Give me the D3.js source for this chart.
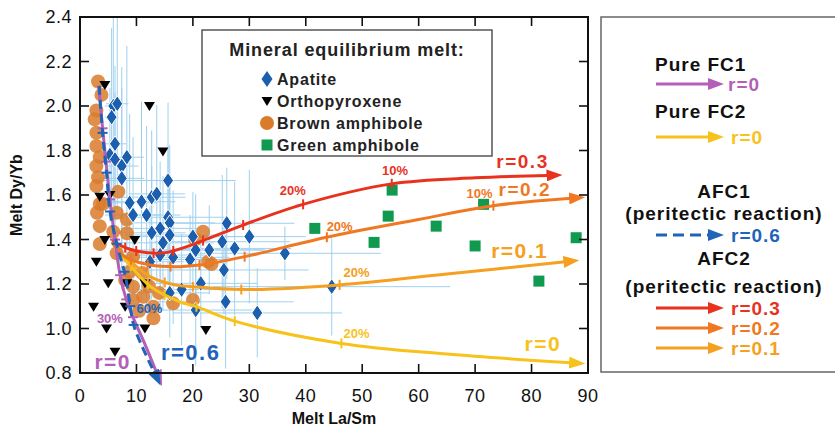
<!DOCTYPE html>
<html><head><meta charset="utf-8">
<script src="https://cdn.jsdelivr.net/npm/d3@7"></script>
<style>body{margin:0;background:#fff}svg{font-family:"Liberation Sans",Arial,sans-serif}</style>
</head><body>
<svg id="c" width="835" height="435"></svg>
<script>
// ---------- data ----------
const xTicks = [0,10,20,30,40,50,60,70,80,90];
const yTicks = [0.8,1.0,1.2,1.4,1.6,1.8,2.0,2.2,2.4];
const yTickLabels = ["0.8","1.0","1.2","1.4","1.6","1.8","2.0","2.2","2.4"];

// apatite: [La/Sm, Dy/Yb, errX, errY]
const apatite = [
 [5.9,2.00,1.5,0.45],[6.6,2.01,2.0,0.5],[5.6,1.95,1.2,0.4],[6.2,1.83,2,0.35],[5.3,1.78,1.5,0.3],
 [6.2,1.76,2,0.3],[8.3,1.77,3,0.5],[7.4,1.73,3,0.35],[7.4,1.675,4,0.5],[15.6,1.665,12,0.35],
 [8.8,1.565,5,0.4],[10.9,1.57,6,0.45],[12.7,1.59,6,0.3],[13.6,1.605,5,0.4],[9.4,1.51,5,0.35],
 [11.8,1.51,6,0.4],[15.6,1.50,10,0.3],[15.9,1.475,8,0.35],[14.2,1.45,7,0.3],[12.7,1.43,6,0.3],
 [15.9,1.42,8,0.25],[14.7,1.385,9,0.3],[14.2,1.33,8,0.25],[16.5,1.32,10,0.3],[12.4,1.30,6,0.25],
 [20,1.413,10,0.2],[26,1.473,12,0.25],[30,1.413,10,0.3],[20.5,1.353,12,0.25],[22.9,1.353,10,0.2],
 [25.2,1.39,12,0.3],[27.4,1.36,10,0.3],[36.3,1.338,17,0.12],[25.5,1.263,15,0.2],[21.4,1.203,10,0.2],
 [18,1.175,8,0.25],[25.8,1.12,12,0.3],[20.5,1.083,10,0.25],[31.4,1.07,15,0.2],[44.6,1.188,21,0.22],
 [19.5,1.31,8,0.2],[15.9,1.16,7,0.2]
];
const orthopyroxene = [
 [4.4,2.094],[12.3,2.0],[14.7,1.795],[3.5,1.592],[5.3,1.60],[4.4,1.398],[9.7,1.398],[2.9,1.30],
 [5.0,1.203],[8.3,1.203],[11.5,1.203],[2.4,1.098],[8.0,1.098],[4.7,1.0],[11.5,1.0],[6.2,0.896],[22.3,0.993]
];
const brownAmphibole = [
 [3.2,2.11],[3.8,2.05],[2.9,1.98],[2.6,1.94],[2.9,1.88],[2.9,1.82],[3.5,1.77],[2.9,1.73],[3.2,1.68],
 [2.9,1.64],[6.8,1.615],[3.5,1.56],[4.1,1.56],[3.0,1.52],[6.5,1.52],[8.3,1.49],[3.5,1.46],[5.9,1.435],
 [3.5,1.38],[8.3,1.428],[6.5,1.338],[9.4,1.323],[8.8,1.255],[9.4,1.188],[11.2,1.143],[9.4,1.128],
 [13,1.098],[13,1.046],[8,1.218],[21.8,1.435],[20.4,1.40],[22.7,1.30],[23.3,1.29],[16.5,1.113],
 [20,1.128],[11,1.25],[12.2,1.19],[14,1.16],[10.5,1.08]
];
const greenAmphibole = [
 [41.6,1.45],[55.3,1.622],[54.6,1.505],[52.1,1.387],[63.1,1.46],[70,1.371],[71.5,1.558],[81.3,1.213],[87.9,1.408]
];

// model curves
const afc2r03 = [[5.7,1.40],[7,1.375],[9,1.355],[12,1.34],[15,1.34],[18,1.36],[21.8,1.395],[28.9,1.465],[39.5,1.558],[55.2,1.65],[70,1.677],[83,1.688]];
const afc2r02 = [[5.7,1.39],[7.1,1.34],[9,1.31],[12.4,1.285],[17.7,1.278],[21.2,1.285],[29.2,1.323],[43.7,1.41],[60,1.49],[73.2,1.552],[87,1.585]];
const afc2r01 = [[5.7,1.39],[7,1.34],[8.3,1.315],[12.4,1.233],[17,1.195],[20,1.188],[28.6,1.175],[46,1.196],[65,1.245],[86,1.30]];
const fc2r0  = [[5.7,1.39],[7,1.33],[8.3,1.30],[12.4,1.19],[17.7,1.12],[20.6,1.098],[27.4,1.033],[46.3,0.933],[65,0.885],[87,0.846]];
const fc1r0  = [[3.3,2.09],[4.0,1.90],[4.6,1.75],[5.3,1.58],[6.2,1.40],[7.1,1.24],[8.2,1.13],[9.4,1.05],[11.5,0.93],[13.6,0.80]];
const afc1r06 = [[3.4,2.09],[4.0,1.88],[4.7,1.70],[5.3,1.53],[6.5,1.38],[8.0,1.24],[8.9,1.10],[9.5,1.016],[11,0.92],[13.2,0.80]];

// tick positions along curves (x for AFC2/FC2, y for FC1/AFC1)
const ticksR03 = [6.5,8,10,13,16.5,21.8,28.9,39.5,55.2];
const ticksR02 = [7,9,12,16,21.2,29.2,43.7,73.2];
const ticksR01 = [7,9,12,15,20,28.6,46];
const ticksFC2 = [7,9,12,15,20.6,27.4,46.3];
const ticksFC1 = [1.9,1.75,1.58,1.40,1.24,1.13,1.05];
const ticksAFC1 = [1.88,1.70,1.525,1.38,1.255,1.10,1.016];

// annotation labels: [text, x, y]
const pctLabels = [
 ["20%",37.7,1.622,"#e8321e"],["10%",55.8,1.709,"#e8321e"],
 ["20%",46,1.46,"#f07822"],["10%",70.8,1.608,"#f07822"],
 ["20%",49,1.251,"#f5a020"],["20%",49,0.978,"#f8c21c"],
 ["30%",5.3,1.047,"#b45fb8"],["60%",12.3,1.092,"#1f64b8"]
];
const rLabels = [
 ["r=0.3",78.4,1.754,"#e8321e",19],["r=0.2",78.8,1.627,"#f07822",19],
 ["r=0.1",77.9,1.353,"#f5a020",21],["r=0",82,0.935,"#f8c21c",21],
 ["r=0",5.8,0.85,"#b45fb8",21],["r=0.6",19.6,0.894,"#1f64b8",22]
];
const legendItems = ["Apatite","Orthopyroxene","Brown amphibole","Green amphibole"];
const modelLegend = [
 ["Pure FC1",null],["r=0","#b45fb8",false],["Pure FC2",null],["r=0","#f8c21c",false],
 ["AFC1",null],["(peritectic reaction)",null],["r=0.6","#1f64b8",true],
 ["AFC2",null],["(peritectic reaction)",null],["r=0.3","#e8321e",false],["r=0.2","#f07822",false],["r=0.1","#f5a020",false]
];

// ---------- drawing ----------
const svg = d3.select("#c");
const L=80,R=588,T=17,B=373;
const x = d3.scaleLinear().domain([0,90]).range([L,R]);
const y = d3.scaleLinear().domain([0.8,2.4]).range([B,T]);

const defs = svg.append("defs");
defs.append("clipPath").attr("id","clip").append("rect").attr("x",L).attr("y",T).attr("width",R-L).attr("height",B-T);
function marker(id,color){
  defs.append("marker").attr("id",id).attr("viewBox","0 0 16 12").attr("refX",2).attr("refY",6)
   .attr("markerWidth",16).attr("markerHeight",12).attr("markerUnits","userSpaceOnUse").attr("orient","auto")
   .append("path").attr("d","M0,0 L16,6 L0,12 Z").attr("fill",color);
}
marker("mRed","#e8321e");marker("mOr","#f07822");marker("mLo","#f5a020");marker("mYe","#f8c21c");
marker("mPu","#b45fb8");marker("mBl","#1f64b8");

// error bars
const eb = svg.append("g").attr("clip-path","url(#clip)").attr("stroke","#9fd0ee").attr("stroke-width",1);
apatite.forEach(d=>{
  eb.append("line").attr("x1",x(d[0]-d[2])).attr("x2",x(d[0]+d[2])).attr("y1",y(d[1])).attr("y2",y(d[1]));
  eb.append("line").attr("x1",x(d[0])).attr("x2",x(d[0])).attr("y1",y(d[1]-d[3])).attr("y2",y(d[1]+d[3]));
});

// brown amphibole
svg.append("g").selectAll("circle").data(brownAmphibole).join("circle")
 .attr("cx",d=>x(d[0])).attr("cy",d=>y(d[1])).attr("r",7).attr("fill","#d97b2b").attr("fill-opacity",0.85);

// orthopyroxene
const tri = "M-5.5,-4 L5.5,-4 L0,5 Z";
svg.append("g").selectAll("path").data(orthopyroxene).join("path")
 .attr("d",tri).attr("transform",d=>`translate(${x(d[0])},${y(d[1])})`).attr("fill","#000");

// apatite diamonds
const dia = "M0,-8 L5.5,0 L0,8 L-5.5,0 Z";
svg.append("g").selectAll("path").data(apatite).join("path")
 .attr("d",dia).attr("transform",d=>`translate(${x(d[0])},${y(d[1])})`)
 .attr("fill","#1c5fae").attr("stroke","#fff").attr("stroke-width",1);

// green amphibole
svg.append("g").selectAll("rect").data(greenAmphibole).join("rect")
 .attr("x",d=>x(d[0])-5.5).attr("y",d=>y(d[1])-5.5).attr("width",11).attr("height",11).attr("fill","#0f9a50");

// curves
const line = d3.line().x(d=>x(d[0])).y(d=>y(d[1])).curve(d3.curveCatmullRom.alpha(0.5));
function curve(data,color,mk,dash,ticks,axis){
  const p = svg.append("path").attr("d",line(data)).attr("fill","none").attr("stroke",color)
   .attr("stroke-width",3).attr("marker-end",`url(#${mk})`);
  if(dash) p.attr("stroke-dasharray",dash);
  const node=p.node(), len=node.getTotalLength();
  ticks.forEach(t=>{
    let best=null,bd=1e9;
    for(let l=0;l<=len;l+=0.5){const q=node.getPointAtLength(l);
      const dd = axis==="x"? Math.abs(q.x-x(t)) : Math.abs(q.y-y(t));
      if(dd<bd){bd=dd;best=q;}}
    if(axis==="x") svg.append("line").attr("x1",best.x).attr("x2",best.x).attr("y1",best.y-5).attr("y2",best.y+5)
      .attr("stroke",color).attr("stroke-width",2);
    else svg.append("line").attr("x1",best.x-5).attr("x2",best.x+5).attr("y1",best.y).attr("y2",best.y)
      .attr("stroke",color).attr("stroke-width",2);
  });
}
curve(fc2r0,"#f8c21c","mYe",null,ticksFC2,"x");
curve(afc2r01,"#f5a020","mLo",null,ticksR01,"x");
curve(afc2r02,"#f07822","mOr",null,ticksR02,"x");
curve(afc2r03,"#e8321e","mRed",null,ticksR03,"x");
curve(fc1r0,"#b45fb8","mPu",null,ticksFC1,"y");
curve(afc1r06,"#1f64b8","mBl","9,5",ticksAFC1,"y");

// labels on curves
svg.append("g").selectAll("text").data(pctLabels).join("text")
 .attr("x",d=>x(d[1])).attr("y",d=>y(d[2])).attr("dy","0.35em").attr("text-anchor","middle")
 .attr("font-size",13).attr("font-weight","bold").attr("fill",d=>d[3]).text(d=>d[0]);
svg.append("g").selectAll("text").data(rLabels).join("text")
 .attr("x",d=>x(d[1])).attr("y",d=>y(d[2])).attr("dy","0.36em").attr("text-anchor","middle")
 .attr("font-size",d=>d[4]).attr("font-weight","bold").attr("letter-spacing",1.5).attr("fill",d=>d[3]).text(d=>d[0]);

// frame + axes
svg.append("rect").attr("x",L).attr("y",T).attr("width",R-L).attr("height",B-T).attr("fill","none").attr("stroke","#111").attr("stroke-width",2);
const ax = svg.append("g").attr("stroke","#111").attr("stroke-width",1.6);
xTicks.slice(1,-1).forEach(t=>{
  ax.append("line").attr("x1",x(t)).attr("x2",x(t)).attr("y1",B).attr("y2",B-9);
  ax.append("line").attr("x1",x(t)).attr("x2",x(t)).attr("y1",T).attr("y2",T+9);
});
yTicks.slice(1,-1).forEach(t=>{
  ax.append("line").attr("x1",L).attr("x2",L+9).attr("y1",y(t)).attr("y2",y(t));
  ax.append("line").attr("x1",R).attr("x2",R-9).attr("y1",y(t)).attr("y2",y(t));
});
svg.append("g").selectAll("text").data(xTicks).join("text")
 .attr("x",d=>x(d)).attr("y",B+29).attr("text-anchor","middle").attr("font-size",18).attr("letter-spacing",0.5).attr("fill","#111").text(d=>d);
svg.append("g").selectAll("text").data(yTicks).join("text")
 .attr("x",L-8).attr("y",d=>y(d)).attr("dy","0.36em").attr("text-anchor","end").attr("font-size",18).attr("letter-spacing",0.5).attr("fill","#111")
 .text((d,i)=>yTickLabels[i]);
svg.append("text").attr("x",(L+R)/2).attr("y",424).attr("text-anchor","middle").attr("font-size",16).attr("font-weight","bold").attr("fill","#111").text("Melt La/Sm");
svg.append("text").attr("transform",`translate(22,${(T+B)/2}) rotate(-90)`).attr("text-anchor","middle").attr("font-size",16).attr("font-weight","bold").attr("fill","#111").text("Melt Dy/Yb");

// in-plot legend
const lg = svg.append("g");
lg.append("rect").attr("x",202).attr("y",30).attr("width",290).attr("height",126).attr("fill","#fff").attr("stroke","#555").attr("stroke-width",1.5);
lg.append("text").attr("x",347).attr("y",56).attr("text-anchor","middle").attr("font-size",18).attr("font-weight","bold").attr("letter-spacing",0.9).attr("fill","#222").text("Mineral equilibrium melt:");
legendItems.forEach((t,i)=>{
  const yy = 79 + i*22;
  lg.append("text").attr("x",277).attr("y",yy).attr("dy","0.36em").attr("font-size",16).attr("font-weight","bold").attr("letter-spacing",0.8).attr("fill","#222").text(t);
  const g = lg.append("g").attr("transform",`translate(267,${yy})`);
  if(i===0) g.append("path").attr("d",dia).attr("fill","#1c5fae");
  if(i===1) g.append("path").attr("d",tri).attr("fill","#000");
  if(i===2) g.append("circle").attr("r",7).attr("fill","#d97b2b");
  if(i===3) g.append("rect").attr("x",-5.5).attr("y",-5.5).attr("width",11).attr("height",11).attr("fill","#0f9a50");
});

// right model panel
const rp = svg.append("g");
rp.append("rect").attr("x",601).attr("y",17).attr("width",250).attr("height",355).attr("fill","#fff").attr("stroke","#666").attr("stroke-width",1.5);
const rows=[64,84,111,137,191,213,235,258,286,308,328,348];
const mk = {"#b45fb8":"mPu","#f8c21c":"mYe","#1f64b8":"mBl","#e8321e":"mRed","#f07822":"mOr","#f5a020":"mLo"};
modelLegend.forEach((d,i)=>{
  const yy=rows[i];
  if(d[1]===null){
    const isPure = d[0].startsWith("Pure");
    rp.append("text").attr("x",isPure?655:724).attr("y",yy).attr("dy","0.36em").attr("text-anchor",isPure?"start":"middle")
     .attr("font-size",19).attr("font-weight","bold").attr("letter-spacing",1).attr("fill","#111").text(d[0]);
  } else {
    const ln = rp.append("line").attr("x1",656).attr("x2",710).attr("y1",yy).attr("y2",yy).attr("stroke",d[1]).attr("stroke-width",3)
      .attr("marker-end",`url(#${mk[d[1]]})`);
    if(d[2]) ln.attr("stroke-dasharray","11,6");
    rp.append("text").attr("x",i===1?728:731).attr("y",yy).attr("dy","0.36em").attr("font-size",19).attr("font-weight","bold")
     .attr("letter-spacing",1).attr("fill",d[1]).text(d[0]);
  }
});
</script>
</body></html>
